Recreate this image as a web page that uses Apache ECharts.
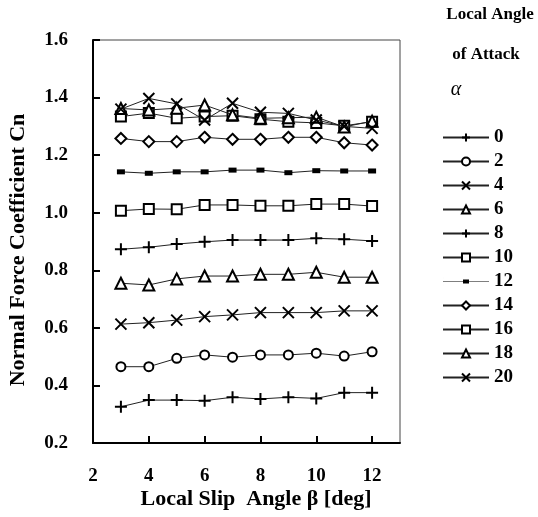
<!DOCTYPE html>
<html><head><meta charset="utf-8">
<script src="https://cdn.jsdelivr.net/npm/echarts@6/dist/echarts.min.js"></script>
<style>html,body{margin:0;padding:0;background:#fff}#c{width:538px;height:517px}</style>
</head><body><div id="c"></div>
<script>
const slip = [3,4,5,6,7,8,9,10,11,12];
const names = ['0','2','4','6','8','10','12','14','16','18','20'];
const a0  = [0.326,0.349,0.349,0.347,0.359,0.353,0.359,0.355,0.375,0.375];
const a2  = [0.465,0.465,0.494,0.506,0.498,0.506,0.506,0.512,0.502,0.517];
const a4  = [0.613,0.618,0.627,0.639,0.645,0.653,0.653,0.653,0.659,0.659];
const a6  = [0.755,0.749,0.770,0.780,0.780,0.786,0.786,0.793,0.776,0.776];
const a8  = [0.873,0.880,0.891,0.899,0.905,0.905,0.905,0.911,0.908,0.902];
const a10 = [1.007,1.013,1.012,1.027,1.027,1.024,1.024,1.030,1.030,1.023];
const a12 = [1.142,1.137,1.142,1.142,1.148,1.148,1.139,1.146,1.145,1.145];
const a14 = [1.258,1.247,1.247,1.262,1.255,1.255,1.262,1.262,1.243,1.235];
const a16 = [1.334,1.346,1.328,1.334,1.337,1.325,1.316,1.312,1.302,1.316];
const a18 = [1.362,1.357,1.363,1.374,1.340,1.328,1.330,1.332,1.298,1.318];
const a20 = [1.360,1.397,1.378,1.322,1.380,1.349,1.345,1.322,1.300,1.293];
const xTicks = [2,4,6,8,10,12];

const PLUS = 'path://M0,-6L0,6M-6,0L6,0';
const CROSS = 'path://M-5,-5L5,5M-5,5L5,-5';
const DASH = 'path://M-4,-2L4,-2L4,2L-4,2Z';
const values = [a0,a2,a4,a6,a8,a10,a12,a14,a16,a18,a20];
const syms = [
  [PLUS,12],['emptyCircle',9],[CROSS,11],['emptyTriangle',11],[PLUS,12],['emptyRect',10],
  [DASH,[8,5]],['emptyDiamond',11],['emptyRect',10],['emptyTriangle',11],[CROSS,11]
];
const serif = '"Liberation Serif","DejaVu Serif",serif';
const series = names.map((n,i)=>({
  name:n, type:'line', data: slip.map((x,j)=>[x, values[i][j]]),
  symbol: syms[i][0], symbolSize: syms[i][1],
  lineStyle:{color:'#222', width:1},
  itemStyle:{color:'#000', borderColor:'#000', borderWidth: i===6?0:2},
  z: 2+i
}));
const legendData = names.map((n,i)=> i===6 ? {name:n, icon:'path://M0,4.7L46,4.7L46,5.3L0,5.3ZM20,3L26,3L26,7L20,7ZM0,0L0.01,0L0.01,10L0,10Z'} : n);
const chart = echarts.init(document.getElementById('c'), null, {renderer:'canvas'});
chart.setOption({
  animation:false,
  backgroundColor:'#fff',
  grid:{left:93,right:138,top:40,bottom:74,show:true,borderColor:'#444',borderWidth:1},
  xAxis:{type:'value',min:2,max:13,interval:2,
    axisLine:{show:true,lineStyle:{color:'#000',width:2}},
    axisTick:{inside:true,length:7,customValues:xTicks,lineStyle:{color:'#000',width:2}},
    axisLabel:{customValues:xTicks,margin:24,color:'#000',fontFamily:serif,fontWeight:'bold',fontSize:19},
    splitLine:{show:false}},
  yAxis:{type:'value',min:0.2,max:1.6,interval:0.2,
    axisLine:{show:true,lineStyle:{color:'#000',width:2}},
    axisTick:{inside:true,length:7,lineStyle:{color:'#000',width:2}},
    axisLabel:{margin:25,color:'#000',fontFamily:serif,fontWeight:'bold',fontSize:19,
      formatter:v=>v.toFixed(1)},
    splitLine:{show:false}},
  legend:{orient:'vertical',left:437,top:123,itemWidth:46,itemHeight:10,itemGap:5,
    data:legendData,
    textStyle:{color:'#000',fontFamily:serif,fontWeight:'bold',fontSize:19,lineHeight:18}},
  graphic:[
    {type:'text',style:{text:'Local Angle',x:490,y:15,fill:'#000',font:'bold 17px '+serif,textAlign:'center',textVerticalAlign:'middle'}},
    {type:'text',style:{text:'of Attack',x:486,y:55,fill:'#000',font:'bold 17px '+serif,textAlign:'center',textVerticalAlign:'middle'}},
    {type:'text',style:{text:'α',x:456,y:90,fill:'#000',font:'italic 20px '+serif,textAlign:'center',textVerticalAlign:'middle'}},
    {type:'text',style:{text:'Local Slip  Angle β [deg]',x:256,y:499,fill:'#000',font:'bold 22px '+serif,textAlign:'center',textVerticalAlign:'middle'}},
    {type:'text',rotation:Math.PI/2,x:18,y:250,style:{text:'Normal Force Coefficient Cn',x:0,y:0,fill:'#000',font:'bold 22px '+serif,textAlign:'center',textVerticalAlign:'middle'}}
  ],
  series: series
});
</script></body></html>
